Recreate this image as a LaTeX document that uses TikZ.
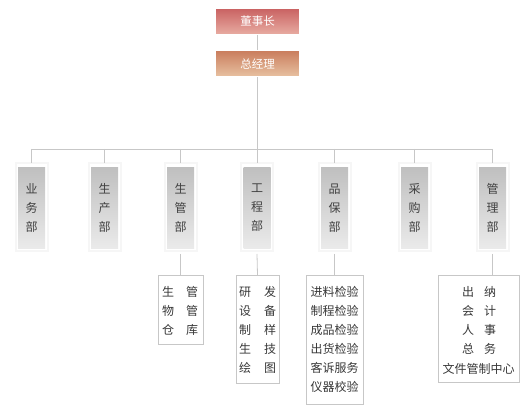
\documentclass[tikz,border=0pt]{standalone}
\usepackage{fontspec}
\setmainfont{Noto Sans CJK SC}
\begin{document}
\begin{tikzpicture}[x=1pt,y=-1pt,
  conn/.style={draw=black!22,line width=0.8pt},
  topbox/.style={minimum width=84pt,minimum height=26pt,inner sep=0pt,text=white,font=\fontsize{11.5}{13}\selectfont},
  deptbox/.style={minimum width=27pt,minimum height=81pt,inner sep=0pt,text=black!75,top color=black!25,bottom color=black!8,font=\fontsize{12}{19}\selectfont,align=center},
  subbox/.style={draw=black!22,fill=white,line width=0.8pt,inner sep=0pt,anchor=north},
  subtext/.style={text=black!78,font=\fontsize{12}{19}\selectfont,align=center},
  glow/.style={draw=black!3.5,line width=2pt}
]
\useasboundingbox (0,0) rectangle (525,411);
\definecolor{redtop}{RGB}{201,98,98}
\definecolor{redbot}{RGB}{232,172,162}
\definecolor{ortop}{RGB}{202,126,94}
\definecolor{orbot}{RGB}{232,194,162}
% top boxes
\node[topbox,top color=redtop,bottom color=redbot,draw=white,line width=1pt] (dsz) at (257.5,21.5) {董事长};
\node[topbox,top color=ortop,bottom color=orbot,draw=white,line width=1pt] (zjl) at (257.5,64) {总经理};
\coordinate (bus) at (257.5,149);
\draw[conn] (dsz.south) -- (zjl.north);
\draw[conn] (zjl.south) -- (bus);
% departments
\foreach \n/\x/\t in {d1/31.5/业\\务\\部, d2/104.5/生\\产\\部, d3/180.5/生\\管\\部, d4/257/工\\程\\部, d5/334.5/品\\保\\部, d6/414.5/采\\购\\部, d7/492.5/管\\理\\部}{
  \draw[glow] (\x-16,163) rectangle (\x+16,251);
  \node[deptbox] (\n) at (\x,208) {\t};
  \coordinate (\n top) at (\x,149);
  \draw[conn] (\n top) -- (\x,163);
}
\draw[conn] (d1top) -- (d7top);
% sub boxes
\coordinate (s3t) at (180.5,275);
\coordinate (s4t) at (257.5,275);
\coordinate (s5t) at (334.5,275);
\coordinate (s7t) at (478.5,275);
\node[subbox,minimum width=45pt,minimum height=69pt] (s3) at (s3t) {};
\node[subtext] at (168,311) {生\\物\\仓};
\node[subtext] at (192,311) {管\\管\\库};
\node[subbox,minimum width=43pt,minimum height=108pt] (s4) at (s4t) {};
\node[subtext] at (245,330) {研\\设\\制\\生\\绘};
\node[subtext] at (270,330) {发\\备\\样\\技\\图};
\node[subbox,minimum width=57pt,minimum height=129pt] (s5) at (s5t) {};
\node[subtext] at (334.5,339.5) {进料检验\\制程检验\\成品检验\\出货检验\\客诉服务\\仪器校验};
\node[subbox,minimum width=81pt,minimum height=107pt] (s7) at (s7t) {};
\node[subtext] at (468,320.5) {出\\会\\人\\总};
\node[subtext] at (490,320.5) {纳\\计\\事\\务};
\node[subtext] at (478.5,368.5) {文件管制中心};
\draw[conn] (d3.south |- 0,254) -- (s3.north);
\draw[conn] (d4.south |- 0,254) -- (s4.north);
\draw[conn] (d5.south |- 0,254) -- (s5.north);
\draw[conn] (d7.south |- 0,254) -- (s7t -| d7.south);
\end{tikzpicture}
\end{document}
